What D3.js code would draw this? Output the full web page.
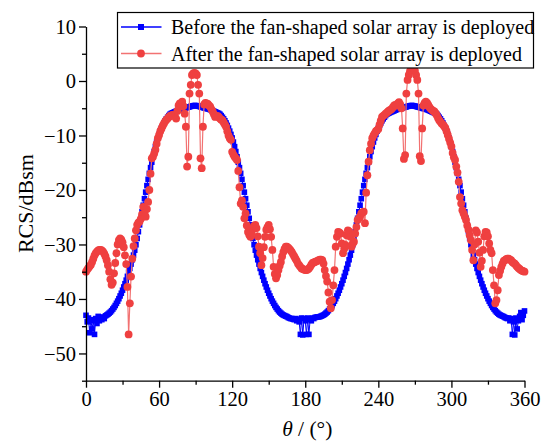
<!DOCTYPE html>
<html><head><meta charset="utf-8">
<script src="https://cdn.jsdelivr.net/npm/d3@7"></script>
<style>body{margin:0;background:#fff}</style>
</head><body>
<svg id="c" width="541" height="443"></svg>
<script>
// sampled angles (degrees)
const theta = d3.range(0, 361, 1);
// RCS before deployment (dBsm), theta = 0..360
const before = [
-43.0,-44.2,-43.5,-46.2,-43.8,-45.5,-44.0,-46.5,-43.6,-44.5,
-43.2,-44.0,-43.5,-43.8,-43.3,-43.6,-43.1,-42.95,-42.8,-42.6,
-42.4,-42.15,-41.85,-41.55,-41.2,-40.8,-40.4,-39.95,-39.45,-38.95,
-38.4,-37.8,-37.2,-36.55,-35.85,-35.15,-34.4,-33.6,-32.8,-31.95,
-31.05,-30.05,-28.9,-27.65,-26.4,-25.2,-24.0,-22.8,-21.6,-20.4,
-19.2,-18.05,-16.95,-15.9,-14.9,-13.9,-12.95,-12.05,-11.2,-10.45,
-9.8,-9.2,-8.65,-8.15,-7.7,-7.3,-6.95,-6.65,-6.35,-6.1,
-5.95,-5.85,-5.75,-5.65,-5.55,-5.45,-5.35,-5.25,-5.15,-5.1,
-5.05,-5.0,-4.95,-4.85,-4.8,-4.75,-4.65,-4.6,-4.55,-4.5,
-4.5,-4.55,-4.6,-4.65,-4.75,-4.8,-4.85,-4.95,-5.0,-5.05,
-5.1,-5.15,-5.25,-5.35,-5.45,-5.55,-5.65,-5.75,-5.85,-5.95,
-6.1,-6.35,-6.65,-6.95,-7.3,-7.7,-8.15,-8.65,-9.2,-9.8,
-10.45,-11.2,-12.05,-12.95,-13.9,-14.9,-15.9,-16.95,-18.05,-19.2,
-20.4,-21.6,-22.8,-24.0,-25.2,-26.4,-27.65,-28.9,-30.05,-31.05,
-31.95,-32.8,-33.6,-34.4,-35.15,-35.85,-36.55,-37.2,-37.8,-38.4,
-38.95,-39.45,-39.95,-40.4,-40.8,-41.2,-41.55,-41.85,-42.15,-42.4,
-42.6,-42.8,-42.95,-43.05,-43.15,-43.25,-43.4,-43.5,-43.6,-43.6,
-43.7,-43.8,-43.6,-44.0,-43.7,-44.2,-46.5,-43.5,-46.6,-43.6,
-44.0,-46.5,-43.5,-46.5,-43.8,-44.0,-43.5,-43.6,-43.4,-43.35,
-43.3,-43.3,-43.25,-43.15,-43.05,-42.95,-42.8,-42.6,-42.4,-42.15,
-41.85,-41.55,-41.2,-40.8,-40.4,-39.95,-39.45,-38.95,-38.4,-37.8,
-37.2,-36.55,-35.85,-35.15,-34.4,-33.6,-32.8,-31.95,-31.05,-30.05,
-28.9,-27.65,-26.4,-25.2,-24.0,-22.8,-21.6,-20.4,-19.2,-18.05,
-16.95,-15.9,-14.9,-13.9,-12.95,-12.05,-11.2,-10.45,-9.8,-9.2,
-8.65,-8.15,-7.7,-7.3,-6.95,-6.65,-6.35,-6.1,-5.95,-5.85,
-5.75,-5.65,-5.55,-5.45,-5.35,-5.25,-5.15,-5.1,-5.05,-5.0,
-4.95,-4.85,-4.8,-4.75,-4.65,-4.6,-4.55,-4.5,-4.5,-4.55,
-4.6,-4.65,-4.75,-4.8,-4.85,-4.95,-5.0,-5.05,-5.1,-5.15,
-5.25,-5.35,-5.45,-5.55,-5.65,-5.75,-5.85,-5.95,-6.1,-6.35,
-6.65,-6.95,-7.3,-7.7,-8.15,-8.65,-9.2,-9.8,-10.45,-11.2,
-12.05,-12.95,-13.9,-14.9,-15.9,-16.95,-18.05,-19.2,-20.4,-21.6,
-22.8,-24.0,-25.2,-26.4,-27.65,-28.9,-30.05,-31.05,-31.95,-32.8,
-33.6,-34.4,-35.15,-35.85,-36.55,-37.2,-37.8,-38.4,-38.95,-39.45,
-39.95,-40.4,-40.8,-41.2,-41.55,-41.85,-42.15,-42.4,-42.6,-42.8,
-42.95,-43.05,-43.15,-43.25,-43.4,-43.5,-43.6,-43.5,-44.0,-43.6,
-46.5,-44.2,-46.6,-43.5,-45.5,-44.0,-43.2,-42.5,-43.8,-43.0,
-42.2
];
// RCS after deployment (dBsm), theta = 0..360
const after = [
-35.0,-34.6,-34.3,-34.0,-33.7,-33.2,-32.6,-32.0,-31.6,-31.3,
-31.1,-31.0,-31.0,-31.1,-31.3,-31.7,-32.2,-32.9,-33.8,-35.0,
-36.4,-37.4,-37.0,-35.3,-33.4,-31.6,-30.0,-29.2,-28.9,-29.1,
-29.6,-30.5,-32.0,-33.6,-37.8,-46.5,-40.8,-35.9,-32.6,-30.3,
-28.9,-27.4,-26.4,-26.0,-25.8,-25.3,-24.5,-23.1,-24.3,-24.9,
-23.5,-22.2,-20.0,-17.0,-14.2,-13.9,-13.3,-12.6,-11.5,-10.5,
-9.9,-9.2,-8.7,-8.2,-7.8,-7.4,-7.1,-6.9,-6.6,-6.4,
-6.3,-6.2,-6.3,-6.5,-6.9,-5.5,-4.5,-4.1,-4.7,-3.8,
-4.6,-6.0,-8.4,-15.7,-13.9,-2.3,-0.7,1.1,1.4,1.5,
1.4,1.1,-0.7,-2.3,-14.2,-16.0,-8.4,-4.3,-4.0,-4.1,
-4.2,-4.5,-4.7,-5.2,-5.6,-6.1,-6.6,-6.5,-6.4,-6.6,
-6.9,-7.1,-7.2,-7.6,-8.0,-8.4,-9.2,-10.0,-10.5,-10.8,
-13.0,-13.5,-13.9,-14.2,-14.5,-16.5,-19.5,-22.5,-21.9,-23.1,
-25.2,-24.3,-26.5,-27.7,-28.2,-28.6,-27.8,-27.0,-26.6,-26.4,
-27.0,-28.5,-30.4,-31.6,-33.8,-32.5,-30.5,-28.6,-27.3,-26.8,
-26.4,-27.2,-28.6,-31.0,-34.1,-35.4,-36.2,-35.6,-34.7,-33.9,
-33.2,-32.2,-31.4,-30.8,-30.4,-30.4,-30.6,-30.8,-31.1,-31.4,
-31.8,-32.2,-32.6,-33.0,-33.5,-33.8,-34.1,-34.4,-34.5,-34.6,
-34.7,-34.7,-34.6,-34.4,-34.1,-33.7,-33.4,-33.3,-33.2,-33.1,
-33.0,-32.9,-32.8,-32.8,-32.9,-33.5,-34.7,-35.8,-36.8,-38.8,
-40.5,-41.7,-40.2,-37.5,-34.7,-30.4,-28.6,-27.7,-27.8,-28.0,
-29.8,-31.6,-30.8,-30.1,-28.3,-27.4,-27.6,-28.6,-30.4,-29.8,
-29.5,-28.0,-26.8,-25.5,-25.2,-24.9,-24.3,-24.1,-24.0,-26.1,
-20.5,-17.3,-14.8,-12.7,-11.5,-10.5,-10.0,-9.6,-9.2,-9.0,
-8.8,-8.0,-7.3,-6.6,-6.4,-6.2,-6.0,-5.8,-5.6,-5.4,
-5.3,-5.1,-4.8,-4.5,-4.4,-4.5,-4.1,-3.9,-4.3,-5.0,
-8.7,-14.3,-13.6,-2.3,0.2,1.1,1.8,2.3,2.4,2.3,
1.9,1.1,0.2,-2.3,-13.8,-14.7,-8.7,-4.5,-4.0,-3.8,
-4.0,-4.4,-4.8,-5.1,-5.3,-5.5,-5.6,-5.9,-6.3,-6.8,
-7.2,-7.5,-7.8,-8.0,-8.3,-8.6,-9.2,-9.9,-10.6,-11.3,
-12.0,-13.2,-14.0,-14.5,-15.7,-16.8,-18.5,-21.3,-22.5,-23.7,
-24.3,-24.9,-25.5,-26.5,-27.3,-28.3,-29.2,-31.0,-32.9,-30.0,
-27.4,-27.8,-29.5,-31.5,-34.1,-33.0,-31.0,-28.5,-27.7,-27.8,
-28.5,-29.8,-31.0,-31.6,-34.7,-37.5,-40.8,-40.2,-38.4,-35.6,
-34.8,-34.1,-33.5,-33.0,-32.9,-32.7,-32.6,-32.6,-32.8,-32.9,
-33.2,-33.4,-33.5,-33.8,-34.1,-34.3,-34.5,-34.7,-34.8,-34.9,
-35.0
];
const xTicks = [0, 60, 120, 180, 240, 300, 360];
const xMinor = [30, 90, 150, 210, 270, 330];
const yTicks = [-50, -40, -30, -20, -10, 0, 10];
const yMinor = [-55, -45, -35, -25, -15, -5, 5];
const seriesNames = ["Before the fan-shaped solar array is deployed",
                     "After the fan-shaped solar array is deployed"];

const W = 541, H = 443;
const FONT = '"Times New Roman","Liberation Serif",serif';
const BLUE = '#0000ff', RED = '#ef4040', REDLINE = '#f27272';

const x = d3.scaleLinear().domain([0, 360]).range([86, 524.5]);
const y = d3.scaleLinear().domain([-55, 10]).range([380.7, 26.5]);

const svg = d3.select('#c');
svg.append('rect').attr('width', W).attr('height', H).attr('fill', '#fff');

const line = d3.line().x((d, i) => x(theta[i])).y(d => y(d));

// Before series
const gB = svg.append('g');
gB.append('path').datum(before).attr('d', line)
  .attr('fill', 'none').attr('stroke', BLUE).attr('stroke-width', 1);
gB.selectAll('rect').data(before).join('rect')
  .attr('x', (d, i) => x(theta[i]) - 2.8).attr('y', d => y(d) - 2.8)
  .attr('width', 5.6).attr('height', 5.6).attr('fill', BLUE);

// After series
const gA = svg.append('g');
gA.append('path').datum(after).attr('d', line)
  .attr('fill', 'none').attr('stroke', REDLINE).attr('stroke-width', 1.2);
gA.selectAll('circle').data(after).join('circle')
  .attr('cx', (d, i) => x(theta[i])).attr('cy', d => y(d))
  .attr('r', 3.9).attr('fill', RED);

// Axes
function styleAxis(g) {
  g.selectAll('path.domain').attr('stroke', '#000').attr('stroke-width', 1.3);
  g.selectAll('.tick line').attr('stroke', '#000').attr('stroke-width', 1.3);
  g.selectAll('.tick text').attr('font-family', FONT).attr('font-size', 20.5).attr('fill', '#000');
}
const yAxis = svg.append('g').attr('transform', `translate(${x(0)},0)`)
  .call(d3.axisLeft(y).tickValues(yTicks).tickSize(7).tickSizeOuter(0).tickPadding(3));
styleAxis(yAxis);
const yAxisMinor = svg.append('g').attr('transform', `translate(${x(0)},0)`)
  .call(d3.axisLeft(y).tickValues(yMinor).tickSize(4).tickFormat(''));
yAxisMinor.select('path.domain').remove();
styleAxis(yAxisMinor);

const xAxis = svg.append('g').attr('transform', `translate(0,${y(-55)})`)
  .call(d3.axisBottom(x).tickValues(xTicks).tickSize(7).tickSizeOuter(0).tickPadding(4));
styleAxis(xAxis);
const xAxisMinor = svg.append('g').attr('transform', `translate(0,${y(-55)})`)
  .call(d3.axisBottom(x).tickValues(xMinor).tickSize(4).tickFormat(''));
xAxisMinor.select('path.domain').remove();
styleAxis(xAxisMinor);

// Axis titles
svg.append('text').attr('transform', `translate(33,${(y(-55) + y(10)) / 2}) rotate(-90)`)
  .attr('text-anchor', 'middle').attr('font-family', FONT).attr('font-size', 22)
  .text('RCS/dBsm');
const xt = svg.append('text').attr('x', (x(0) + x(360)) / 2 + 2).attr('y', 436)
  .attr('text-anchor', 'middle').attr('font-family', FONT).attr('font-size', 21.5);
xt.append('tspan').attr('font-style', 'italic').text('θ');
xt.append('tspan').text(' / (°)');

// Legend
const lg = svg.append('g');
lg.append('rect').attr('x', 117.5).attr('y', 12.5).attr('width', 416).attr('height', 55.5)
  .attr('fill', '#fff').attr('stroke', '#000').attr('stroke-width', 1.2);
const rows = [
  {name: seriesNames[0], color: BLUE, lc: BLUE, shape: 'sq', yy: 27},
  {name: seriesNames[1], color: RED, lc: REDLINE, shape: 'ci', yy: 53.5}
];
rows.forEach(r => {
  lg.append('line').attr('x1', 121).attr('x2', 161.5).attr('y1', r.yy).attr('y2', r.yy)
    .attr('stroke', r.lc).attr('stroke-width', 1.5);
  if (r.shape === 'sq') {
    lg.append('rect').attr('x', 141 - 3).attr('y', r.yy - 3).attr('width', 6).attr('height', 6).attr('fill', r.color);
  } else {
    lg.append('circle').attr('cx', 141).attr('cy', r.yy).attr('r', 3.9).attr('fill', r.color);
  }
  lg.append('text').attr('x', 171).attr('y', r.yy).attr('dy', '0.35em')
    .attr('font-family', FONT).attr('font-size', 20).text(r.name);
});
</script>
</body></html>
